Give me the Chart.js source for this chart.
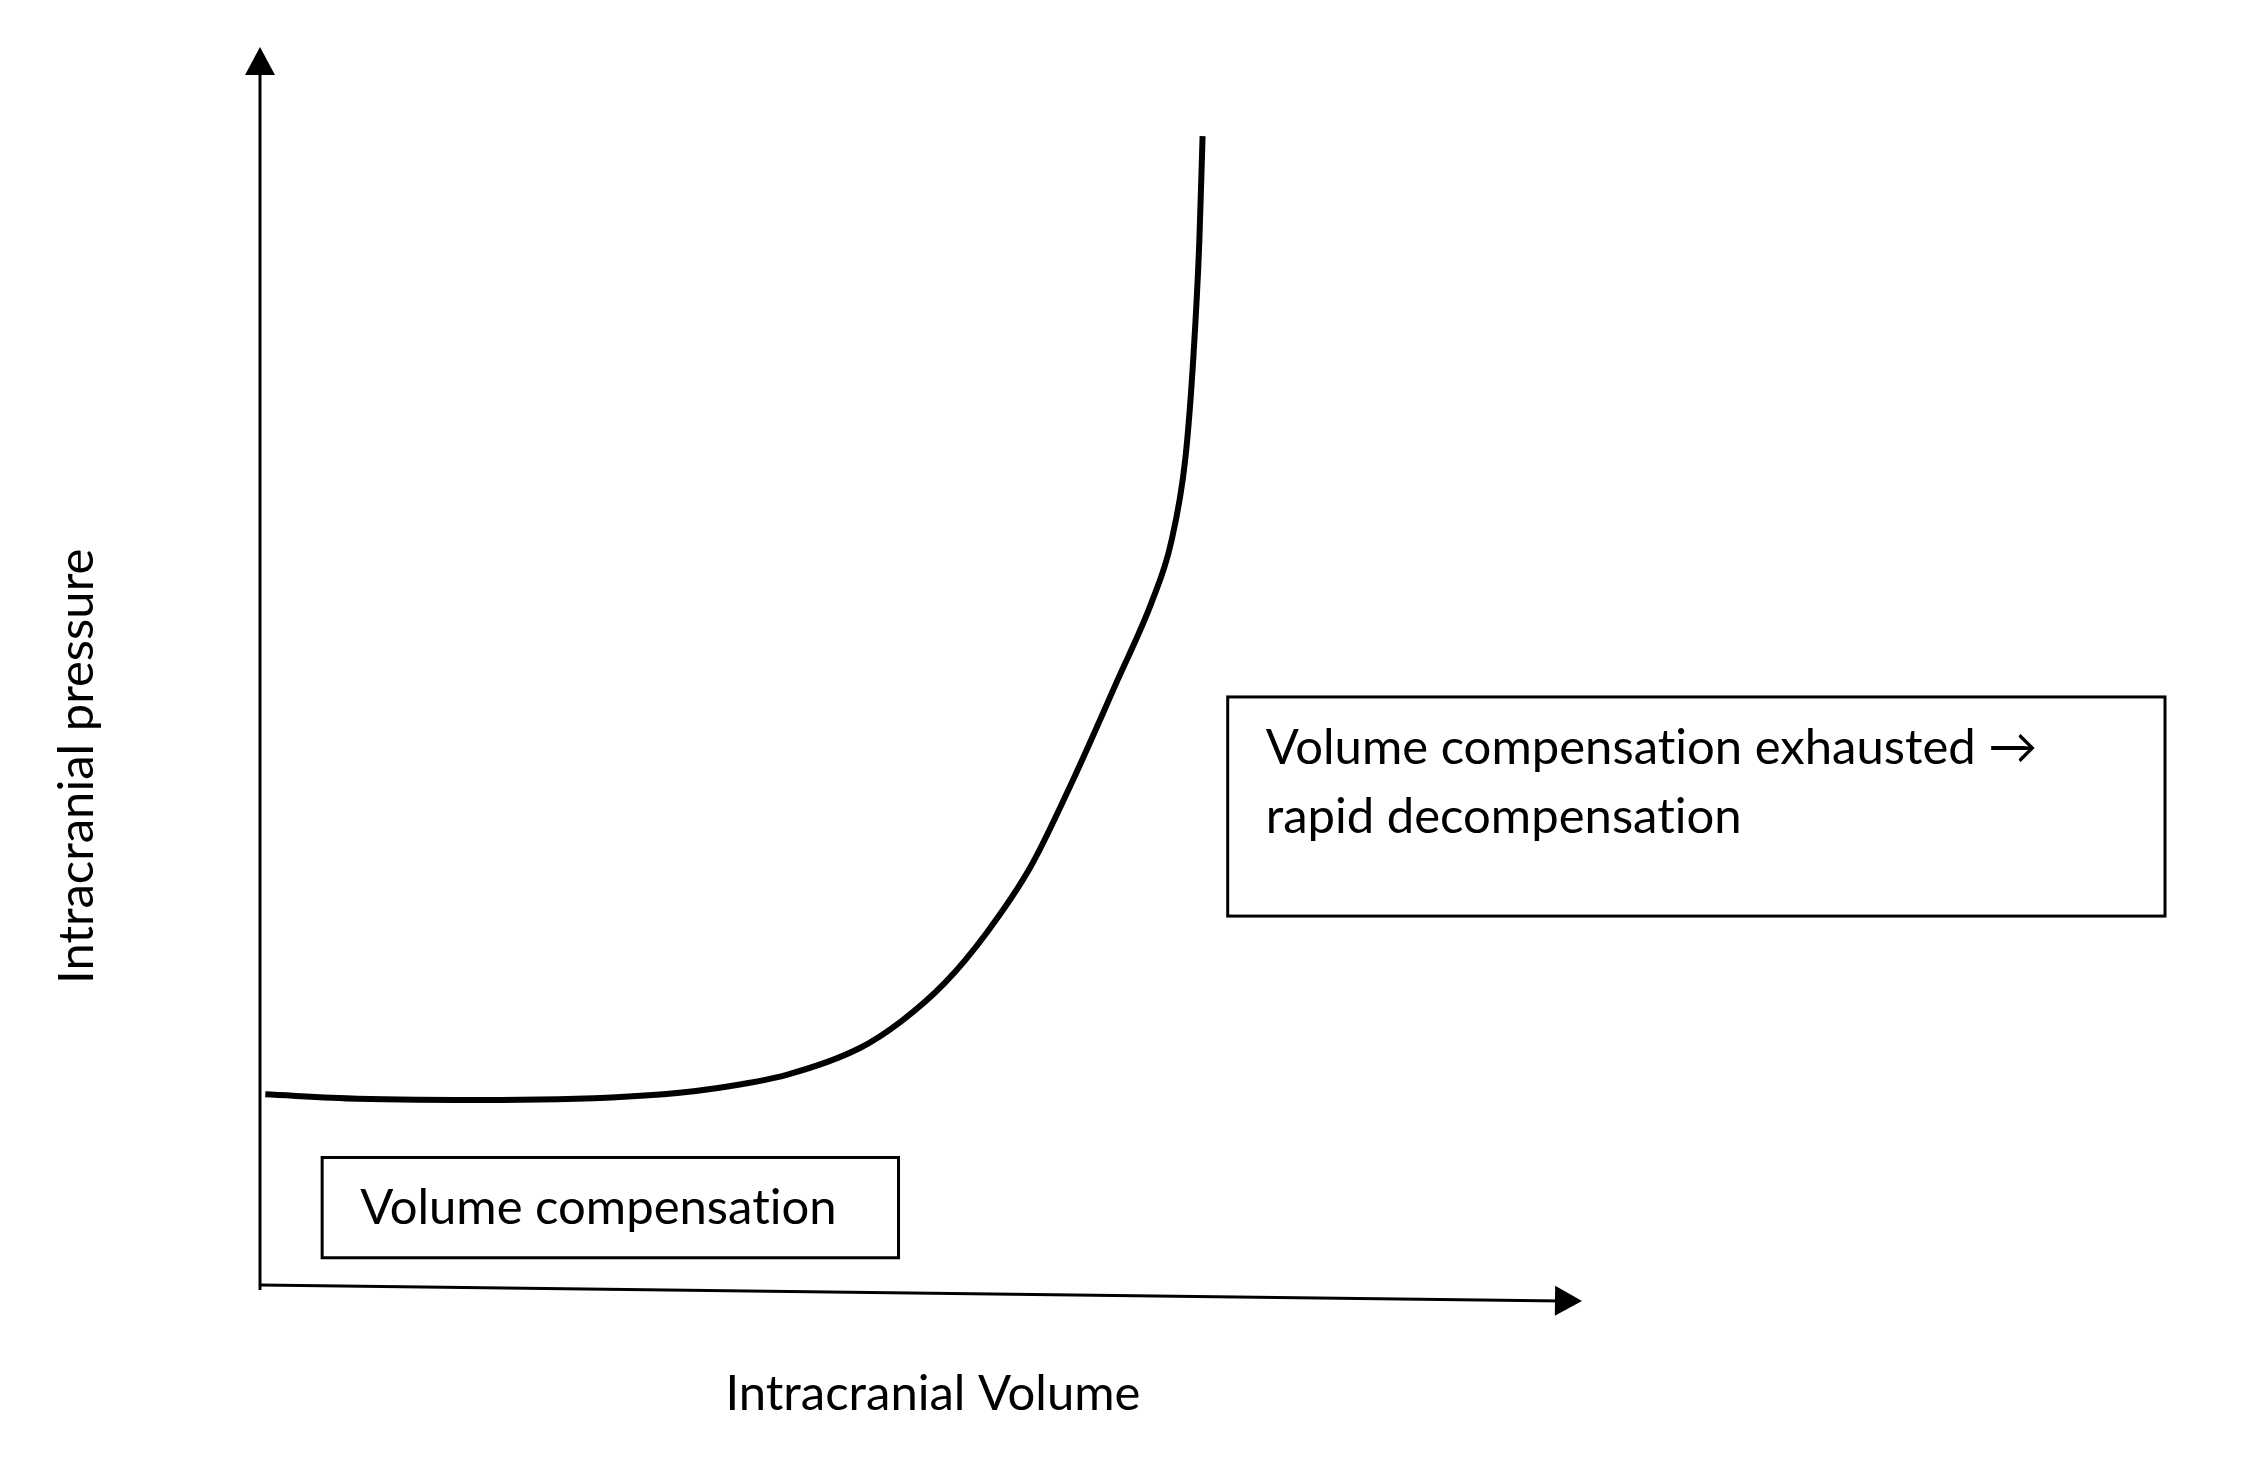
<!DOCTYPE html>
<html>
<head>
<meta charset="utf-8">
<script src="https://cdn.jsdelivr.net/npm/chart.js@4.4.1/dist/chart.umd.min.js"></script>
<style>
  html, body { margin: 0; padding: 0; background: #fff; }
  canvas { display: block; }
</style>
</head>
<body>
<canvas id="icpChart" width="2244" height="1462"></canvas>
<script>
// pressure-volume curve (arbitrary units 0..100)
const volume = [0.4, 7.4, 18.2, 29.1, 34.5, 39.9, 45.3, 48.5, 51.8, 55.0, 58.3, 61.5, 64.8, 67.5, 68.9, 70.0, 70.6, 71.05, 71.3];
const pressure = [15.4, 15.05, 14.95, 15.3, 15.9, 17.0, 19.1, 21.3, 24.4, 28.5, 33.8, 40.8, 48.7, 55.3, 59.9, 66.8, 74.9, 84.2, 92.8];

// axis ends (the x axis drops slightly to the right in the original)
const xAxisEnds = [{ x: 0, y: 0 }, { x: 100, y: -1.3 }];
const yAxisEnds = [{ x: 0, y: -0.4 }, { x: 0, y: 100 }];

const xLabel = 'Intracranial Volume';
const yLabel = 'Intracranial pressure';
const noteLeft = ['Volume compensation'];
const noteRight = ['Volume compensation exhausted \u2192', 'rapid decompensation'];

const FONT = '49px Lato';

// boxes in data units
const boxes = [
  { x0: 4.7, x1: 48.3, y0: 10.3, y1: 2.2, lines: noteLeft },
  { x0: 73.2, x1: 144.1, y0: 47.5, y1: 29.8, lines: noteRight }
];

const points = volume.map((v, i) => ({ x: v, y: pressure[i] }));

function arrowHead(ctx, fromX, fromY, toX, toY, len, half) {
  const a = Math.atan2(toY - fromY, toX - fromX);
  ctx.save();
  ctx.translate(toX, toY);
  ctx.rotate(a);
  ctx.beginPath();
  ctx.moveTo(0, 0);
  ctx.lineTo(-len, -half);
  ctx.lineTo(-len, half);
  ctx.closePath();
  ctx.fill();
  ctx.restore();
}

const sketchPlugin = {
  id: 'sketch',
  afterDraw(chart) {
    const ctx = chart.ctx;
    const xs = chart.scales.x, ys = chart.scales.y;
    const px = v => xs.getPixelForValue(v);
    const py = v => ys.getPixelForValue(v);
    ctx.save();
    ctx.strokeStyle = '#000';
    ctx.fillStyle = '#000';
    ctx.lineWidth = 3;

    // y axis
    const yb = yAxisEnds[0], yt = yAxisEnds[1];
    ctx.beginPath();
    ctx.moveTo(px(yb.x), py(yb.y));
    ctx.lineTo(px(yt.x), py(yt.y) + 20);
    ctx.stroke();
    arrowHead(ctx, px(yb.x), py(yb.y), px(yt.x), py(yt.y), 28, 15);

    // x axis
    const xa = xAxisEnds[0], xb = xAxisEnds[1];
    ctx.beginPath();
    ctx.moveTo(px(xa.x), py(xa.y));
    ctx.lineTo(px(xb.x) - 20, py(xb.y));
    ctx.stroke();
    arrowHead(ctx, px(xa.x), py(xa.y), px(xb.x), py(xb.y), 27, 15);

    // note boxes
    ctx.font = FONT;
    ctx.letterSpacing = '0.01px'; // keeps "ti" from turning into a ligature
    ctx.textBaseline = 'alphabetic';
    ctx.textAlign = 'left';
    boxes.forEach(b => {
      const l = px(b.x0), t = py(b.y0);
      ctx.strokeRect(l, t, px(b.x1) - l, py(b.y1) - t);
      b.lines.forEach((s, i) => ctx.fillText(s, l + 38, t + 67 + i * 69));
    });

    // axis titles
    ctx.textAlign = 'center';
    ctx.fillText(xLabel, px(50.9), py(-10.1));
    ctx.translate(px(-12.6), py(41.9));
    ctx.rotate(-Math.PI / 2);
    ctx.fillText(yLabel, 0, 0);
    ctx.restore();
  }
};

new Chart(document.getElementById('icpChart'), {
  type: 'scatter',
  data: {
    datasets: [{
      data: points,
      showLine: true,
      borderColor: '#000',
      borderWidth: 6,
      pointRadius: 0,
      cubicInterpolationMode: 'monotone',
      fill: false
    }]
  },
  options: {
    responsive: false,
    animation: false,
    devicePixelRatio: 1,
    layout: { padding: { left: 260, right: 662, top: 47, bottom: 177 } },
    scales: {
      x: { type: 'linear', min: 0, max: 100, display: false },
      y: { type: 'linear', min: 0, max: 100, display: false }
    },
    plugins: { legend: { display: false }, tooltip: { enabled: false } }
  },
  plugins: [sketchPlugin]
});
</script>
</body>
</html>
